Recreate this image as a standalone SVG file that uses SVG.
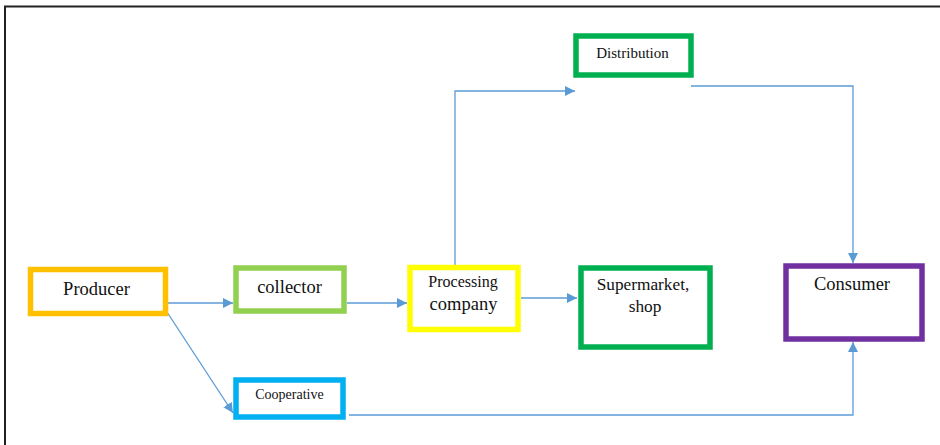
<svg xmlns="http://www.w3.org/2000/svg" width="940" height="445" viewBox="0 0 940 445">
<style>
.box{fill:#fff;stroke-width:5.5}
.t{font-family:"Liberation Serif","Times New Roman","DejaVu Serif",serif;fill:#111;text-anchor:middle}
.c{fill:none;stroke:#5B9BD5;stroke-width:1.3}
</style>
<defs>
<marker id="ah" viewBox="0 0 10 10" refX="10" refY="5" markerWidth="10" markerHeight="10" markerUnits="userSpaceOnUse" orient="auto">
<path d="M0,0 L10,5 L0,10 z" fill="#5B9BD5"/>
</marker>
</defs>
<rect width="940" height="445" fill="#fff"/>
<path d="M5,445 V6.5 H940" fill="none" stroke="#222" stroke-width="2"/>
<g id="connectors">
<path class="c" d="M166,303 H233" marker-end="url(#ah)"/>
<path class="c" d="M165,309 L233,413" marker-end="url(#ah)"/>
<path class="c" d="M347,303 H407" marker-end="url(#ah)"/>
<path class="c" d="M521,298 H577" marker-end="url(#ah)"/>
<path class="c" d="M455,265 V91 H575" marker-end="url(#ah)"/>
<path class="c" d="M691,86 H853 V263" marker-end="url(#ah)"/>
<path class="c" d="M349,415 H853 V342" marker-end="url(#ah)"/>
</g>
<g id="producer">
<rect class="box" x="30.5" y="269.5" width="135" height="44" stroke="#FFC000"/>
<text class="t" x="96.5" y="295" font-size="18.5">Producer</text>
</g>
<g id="collector">
<rect class="box" x="236" y="268" width="108" height="43" stroke="#92D050"/>
<text class="t" x="289.5" y="293" font-size="18.5">collector</text>
</g>
<g id="cooperative">
<rect class="box" x="236" y="380" width="107" height="37" stroke="#00B0F0"/>
<text class="t" x="289.5" y="399" font-size="14">Cooperative</text>
</g>
<g id="processing">
<rect class="box" x="410" y="267.5" width="108" height="62" stroke="#FFFF00"/>
<text class="t" x="463" y="287" font-size="16">Processing</text>
<text class="t" x="463.5" y="310" font-size="18.5">company</text>
</g>
<g id="supermarket">
<rect class="box" x="581" y="268" width="129" height="79" stroke="#00B050"/>
<text class="t" x="643" y="290" font-size="17.3">Supermarket,</text>
<text class="t" x="645" y="312" font-size="17.3">shop</text>
</g>
<g id="consumer">
<rect class="box" x="786" y="266" width="136" height="73" stroke="#7030A0"/>
<text class="t" x="852" y="290" font-size="18.5">Consumer</text>
</g>
<g id="distribution">
<rect class="box" x="576" y="36" width="115" height="39" stroke="#00B050"/>
<text class="t" x="632.5" y="58" font-size="15">Distribution</text>
</g>
</svg>
